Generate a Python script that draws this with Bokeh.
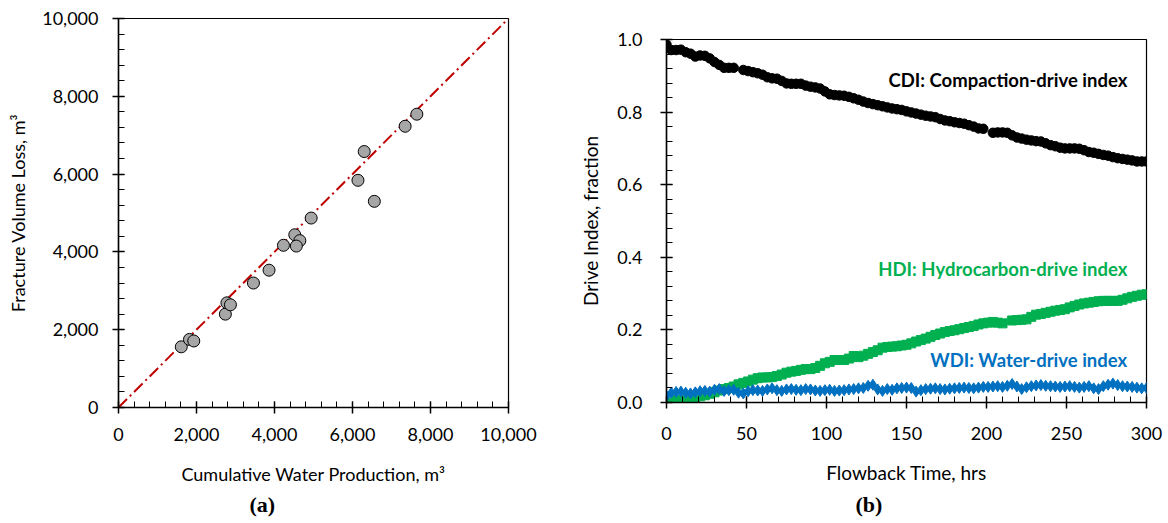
from bokeh.plotting import figure
from bokeh.models import Range1d, SingleIntervalTicker, NumeralTickFormatter, Title, Label
from bokeh.embed import file_html
from bokeh.resources import INLINE

nan = float("nan")

# ---------------- (a) data ----------------
water_prod = [1610, 1820, 1930, 2740, 2780, 2870, 3460, 3860, 4230, 4520,
              4650, 4560, 4940, 6140, 6300, 6560, 7350, 7650]
frac_loss = [1560, 1750, 1710, 2400, 2690, 2640, 3200, 3530, 4170, 4440,
             4290, 4150, 4870, 5840, 6580, 5300, 7230, 7540]
unit_line = [0, 10000]

# ---------------- (b) data ----------------
hours = list(range(0, 301, 3))
cdi = [0.986, 0.971, 0.971, 0.972, 0.965, 0.961, 0.953, 0.956, 0.955, 0.948,
       0.938, 0.930, 0.922, 0.922, 0.922, nan, 0.916, 0.913, 0.910, 0.907,
       0.903, 0.896, 0.893, 0.892, 0.886, 0.879, 0.878, 0.878, 0.878, 0.873,
       0.870, 0.868, 0.865, 0.857, 0.849, 0.847, 0.846, 0.845, 0.842, 0.838,
       0.834, 0.829, 0.825, 0.822, 0.819, 0.816, 0.813, 0.810, 0.808, 0.806,
       0.802, 0.799, 0.796, 0.793, 0.790, 0.788, 0.786, 0.781, 0.777, 0.775,
       0.772, 0.770, 0.768, 0.764, 0.760, 0.755, 0.754, nan, 0.743, 0.744,
       0.744, 0.743, 0.736, 0.730, 0.727, 0.724, 0.722, 0.720, 0.719, 0.714,
       0.709, 0.706, 0.702, 0.700, 0.700, 0.700, 0.699, 0.695, 0.690, 0.688,
       0.685, 0.682, 0.680, 0.676, 0.673, 0.671, 0.669, 0.667, 0.664, 0.664,
       0.664]
hdi = [0.000, nan, 0.006, 0.006, 0.006, 0.007, 0.014, 0.017, 0.020, 0.024,
       0.028, 0.033, 0.037, 0.040, 0.044, 0.050, 0.054, 0.058, 0.063, 0.067,
       0.069, 0.069, 0.070, 0.073, 0.077, 0.082, 0.085, 0.087, 0.090, 0.092,
       0.092, 0.095, 0.101, 0.108, 0.112, 0.117, 0.117, 0.117, 0.121, 0.128,
       0.125, 0.129, 0.134, 0.139, 0.144, 0.151, 0.153, 0.154, 0.155, 0.157,
       0.159, 0.163, 0.168, 0.172, 0.176, 0.181, 0.186, 0.190, 0.194, 0.197,
       0.199, 0.202, 0.205, 0.208, 0.211, 0.215, 0.218, 0.220, 0.222, 0.220,
       0.218, nan, 0.226, 0.227, 0.228, 0.229, 0.236, 0.242, 0.244, 0.247,
       0.250, 0.253, 0.255, 0.257, 0.262, 0.266, 0.270, 0.273, 0.275, 0.277,
       0.279, 0.280, 0.280, 0.280, 0.280, 0.283, 0.287, 0.291, 0.294, 0.297,
       0.298]
wdi = [0.018, 0.027, 0.029, 0.030, 0.027, 0.025, 0.028, 0.031, 0.032, 0.030,
       0.035, 0.037, 0.032, 0.034, 0.035, 0.027, 0.025, 0.031, 0.034, 0.033,
       0.032, 0.036, 0.039, 0.034, 0.032, 0.036, 0.037, 0.035, 0.034, 0.037,
       0.036, 0.033, 0.032, 0.034, 0.035, 0.032, 0.033, 0.034, 0.036, 0.037,
       0.039, 0.040, 0.046, 0.049, 0.036, 0.032, 0.037, 0.035,
       0.039, 0.040, 0.041, 0.040, 0.030, 0.034, 0.037, 0.038, 0.039, 0.037,
       0.036, 0.038, 0.039, 0.040, 0.041, 0.040, 0.039, 0.041, 0.043, 0.043,
       0.044, 0.045, 0.043, 0.046, 0.051, 0.044, 0.037, 0.042, 0.045, 0.047,
       0.048, 0.046, 0.045, 0.044, 0.043, 0.044, 0.045, 0.043, 0.041, 0.043,
       0.045, 0.039, 0.037, 0.045, 0.049, 0.052, 0.048, 0.045, 0.044, 0.043,
       0.041, 0.039, 0.040]

FONT = "Lato"


def style_axes(p):
    for ax in (p.xaxis[0], p.yaxis[0]):
        ax.axis_line_color = "black"
        ax.axis_line_width = 1.5
        ax.major_tick_line_color = "black"
        ax.major_tick_line_width = 1.5
        ax.minor_tick_line_color = "black"
        ax.minor_tick_line_width = 1
        ax.major_tick_in = 6
        ax.major_tick_out = 6
        ax.minor_tick_in = 6
        ax.minor_tick_out = 0
        ax.major_label_text_font = FONT
        ax.major_label_text_font_size = "18px"
        ax.major_label_text_color = "black"
        ax.major_label_standoff = 14
        ax.axis_label_text_font = FONT
        ax.axis_label_text_font_size = "18px"
        ax.axis_label_text_font_style = "normal"
        ax.axis_label_text_color = "black"
    p.xgrid.visible = False
    p.ygrid.visible = False
    p.outline_line_color = "black"
    p.outline_line_width = 1.2
    p.background_fill_color = "white"
    p.border_fill_color = "white"


# ---------------- figure (a) ----------------
pa = figure(frame_width=390, frame_height=389, output_backend="svg",
            toolbar_location=None, x_range=Range1d(0, 10000), y_range=Range1d(0, 10000),
            min_border_left=118, min_border_right=52, min_border_top=18, min_border_bottom=116)
style_axes(pa)
pa.xaxis[0].ticker = SingleIntervalTicker(interval=2000, num_minor_ticks=5)
pa.yaxis[0].ticker = SingleIntervalTicker(interval=2000, num_minor_ticks=5)
pa.xaxis[0].formatter = NumeralTickFormatter(format="0,0")
pa.yaxis[0].formatter = NumeralTickFormatter(format="0,0")
pa.xaxis[0].axis_label = "Cumulative Water Production, m³"
pa.yaxis[0].axis_label = "Fracture Volume Loss, m³"
pa.xaxis[0].axis_label_standoff = 19
pa.yaxis[0].axis_label_standoff = 10

pa.line(unit_line, unit_line, line_color="#C00000", line_width=2, line_dash="12 4 2 4")
pa.scatter(water_prod, frac_loss, size=12, marker="circle", fill_color="#A6A6A6",
           line_color="black", line_width=1)
pa.add_layout(Title(text="(a)", align="left", offset=131, text_font="Liberation Serif",
                    text_font_size="22px", text_font_style="bold", text_color="black",
                    standoff=5), "below")

# ---------------- figure (b) ----------------
pb = figure(frame_width=480, frame_height=363, output_backend="svg",
            toolbar_location=None, x_range=Range1d(0, 300), y_range=Range1d(0, 1.0),
            min_border_left=106, min_border_right=22, min_border_top=39, min_border_bottom=121)
style_axes(pb)
pb.xaxis[0].ticker = SingleIntervalTicker(interval=50, num_minor_ticks=5)
pb.yaxis[0].ticker = SingleIntervalTicker(interval=0.2, num_minor_ticks=5)
pb.yaxis[0].formatter = NumeralTickFormatter(format="0.0")
pb.xaxis[0].major_label_standoff = 18
pb.yaxis[0].major_label_standoff = 18
pb.xaxis[0].axis_label = "Flowback Time, hrs"
pb.yaxis[0].axis_label = "Drive Index, fraction"
pb.xaxis[0].axis_label_text_font_size = "19px"
pb.yaxis[0].axis_label_text_font_size = "19px"
pb.xaxis[0].axis_label_standoff = 18
pb.yaxis[0].axis_label_standoff = 12

pb.scatter(hours, cdi, marker="circle", size=9.5, fill_color="black", line_color="black")
pb.scatter(hours, hdi, marker="square", size=9, fill_color="#00B050", line_color="#00B050")
pb.scatter(hours, wdi, marker="diamond", size=11, fill_color="#0070C0", line_color="#0070C0")

for txt, yy, col in [("CDI: Compaction-drive index", 0.888, "black"),
                     ("HDI: Hydrocarbon-drive index", 0.369, "#00B050"),
                     ("WDI: Water-drive index", 0.117, "#0070C0")]:
    pb.add_layout(Label(x=288, y=yy, text=txt, text_align="right", text_baseline="middle",
                        text_font=FONT, text_font_size="18.5px", text_font_style="bold",
                        text_color=col))

pb.add_layout(Title(text="(b)", align="left", offset=189, text_font="Liberation Serif",
                    text_font_size="22px", text_font_style="bold", text_color="black",
                    standoff=6), "below")

html = file_html([pa, pb], INLINE, title="Drive indices")
# put the two independent roots side by side (the real <body> tag is the last one)
i = html.rfind("<body")
j = html.find(">", i)
html = (html[:i]
        + '<body style="margin:0;padding:0;display:flex;flex-direction:row;align-items:flex-start;">'
        + html[j + 1:])
open("out.html", "w").write(html)
